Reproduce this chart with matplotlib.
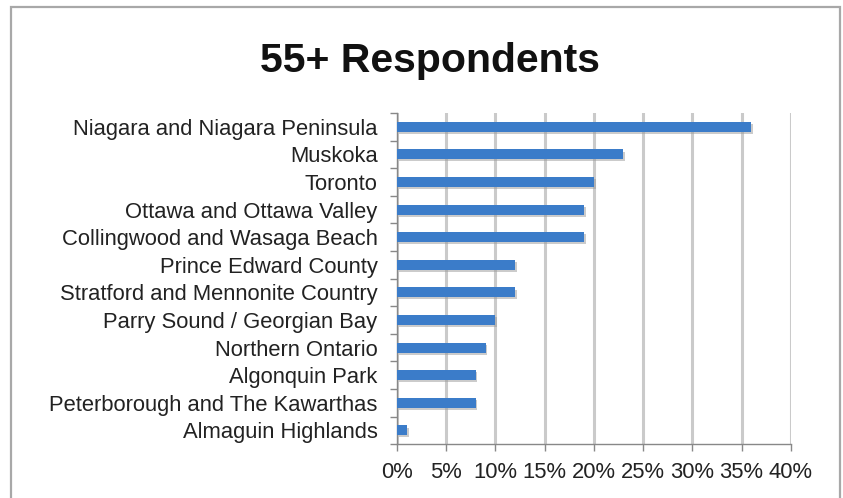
import matplotlib
matplotlib.use("Agg")
import matplotlib.pyplot as plt
import matplotlib.patheffects as pe
from matplotlib.patches import Rectangle
from matplotlib.ticker import FuncFormatter

# Chart data
regions = [
    "Niagara and Niagara Peninsula",
    "Muskoka",
    "Toronto",
    "Ottawa and Ottawa Valley",
    "Collingwood and Wasaga Beach",
    "Prince Edward County",
    "Stratford and Mennonite Country",
    "Parry Sound / Georgian Bay",
    "Northern Ontario",
    "Algonquin Park",
    "Peterborough and The Kawarthas",
    "Almaguin Highlands",
]
shares = [36, 23, 20, 19, 19, 12, 12, 10, 9, 8, 8, 1]
x_ticks = [0, 5, 10, 15, 20, 25, 30, 35, 40]

plt.rcParams["font.family"] = ["Liberation Sans", "DejaVu Sans"]

fig = plt.figure(figsize=(8.43, 4.98), dpi=100)

# Outer gray frame round the chart
fig.patches.append(Rectangle((0.013, -0.05), 0.984, 1.036, transform=fig.transFigure,
                             fill=False, edgecolor="#a8a8a8", linewidth=1.6))

fig.text(0.51, 0.877, "55+ Respondents", ha="center", va="center",
         fontsize=29.5, fontweight="bold", color="#111111")

ax = fig.add_axes([0.471, 0.108, 0.467, 0.665])

ypos = list(range(len(regions)))
bars = ax.barh(ypos, shares, height=0.36, color="#3b7cc9", zorder=3)
for b in bars:
    b.set_path_effects([pe.SimplePatchShadow(offset=(1.2, -1.5), shadow_rgbFace="#999999", alpha=0.5),
                        pe.Normal()])

ax.set_ylim(len(regions) - 0.5, -0.5)
ax.set_xlim(0, 40)
ax.set_xticks(x_ticks)
ax.xaxis.set_major_formatter(FuncFormatter(lambda v, p: f"{int(v)}%"))
ax.set_yticks(ypos)
ax.set_yticklabels(regions)

# Tick marks between the categories on the y axis
ax.set_yticks([i - 0.5 for i in range(len(regions) + 1)], minor=True)
ax.tick_params(axis="y", which="major", length=0, pad=14, labelsize=15.8, labelcolor="#222222")
ax.tick_params(axis="y", which="minor", length=5, color="#888888", width=1)
ax.tick_params(axis="x", which="major", length=5, color="#888888", width=1, pad=8,
               labelsize=15.8, labelcolor="#222222")

ax.grid(axis="x", color="#cacaca", linewidth=2.2, zorder=0)
ax.set_axisbelow(True)

for side in ["top", "right"]:
    ax.spines[side].set_visible(False)
for side in ["left", "bottom"]:
    ax.spines[side].set_color("#888888")
    ax.spines[side].set_linewidth(1)

plt.savefig("out.png", dpi=100)
